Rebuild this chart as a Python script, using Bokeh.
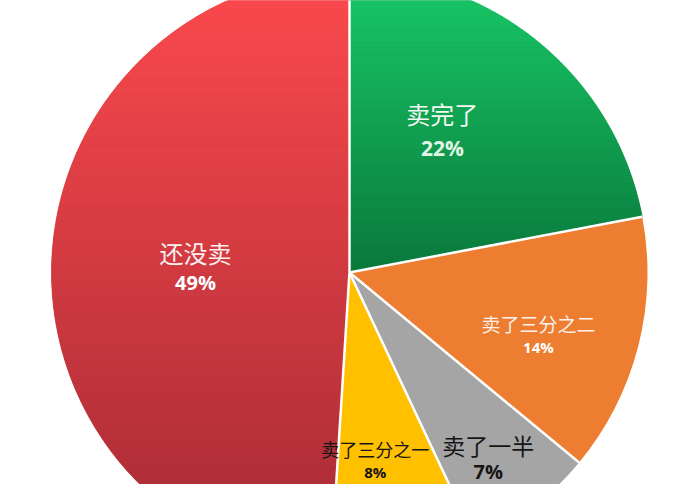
import numpy as np
from bokeh.plotting import figure
from bokeh.models import Range1d, ColumnDataSource
from bokeh.core.properties import value
from bokeh.embed import file_html
from bokeh.resources import INLINE

# ---- data (clockwise from 12 o'clock) ----
categories = ["卖完了", "卖了三分之二", "卖了一半", "卖了三分之一", "还没卖"]
shares = [22, 14, 7, 8, 49]
pct_labels = [f"{v}%" for v in shares]

# ---- style / layout ----
base_colors = ["#13A653", "#ED7D31", "#A5A5A5", "#FFC000", "#D93A3F"]
grad = {0: ("#19CA68", "#0A783B"), 4: ("#FC4A4E", "#A42A33")}
name_colors = ["#F2F8F2", "#FBF1EA", "#151515", "#151515", "#FBEFEF"]
pct_colors = ["#E2F6E8", "#FFFFFF", "#151515", "#151515", "#FFFFFF"]
name_sizes = ["24px", "19px", "23px", "18px", "24px"]
pct_sizes = ["21px", "15px", "20px", "15px", "20px"]
label_frac = [0.569, 0.668, 0.781, 0.637, 0.517]
label_dang = [-6.4, 4.0, 1.2, 3.0, 0.0]
name_dy = [-17, -12, -14, -12, -15]
pct_dy = [17, 12, 12, 11, 15]

W, H = 684, 484
cx, cy, R = 349.0, 500 - 272.0, 298.0

p = figure(width=W, height=H, x_range=Range1d(0, 684), y_range=Range1d(16, 500),
           output_backend="svg", toolbar_location=None, min_border=0)
p.axis.visible = False
p.grid.visible = False
p.outline_line_color = None
p.background_fill_color = "white"
p.border_fill_color = "white"

total = float(sum(shares))
cum = np.concatenate([[0.0], np.cumsum(shares) / total])
a_from, a_to = cum[:-1], cum[1:]
start = np.pi / 2 - 2 * np.pi * a_to
end = np.pi / 2 - 2 * np.pi * a_from

src = ColumnDataSource(dict(cat=categories, share=shares, start=start, end=end,
                            color=base_colors))
p.wedge(x=cx, y=cy, radius=R, start_angle="start", end_angle="end",
        fill_color="color", line_color=None, source=src)


def hexrgb(h):
    h = h.lstrip("#")
    return np.array([int(h[i:i + 2], 16) for i in (0, 2, 4)], float)


def clip(poly, yv, keep_above):
    out = []
    n = len(poly)
    for i in range(n):
        P, Q = poly[i], poly[(i + 1) % n]
        inP = P[1] >= yv if keep_above else P[1] <= yv
        inQ = Q[1] >= yv if keep_above else Q[1] <= yv
        if inP:
            out.append(P)
        if inP != inQ:
            t = (yv - P[1]) / (Q[1] - P[1])
            out.append((P[0] + t * (Q[0] - P[0]), yv))
    return out


# vertical gradient overlays
for idx, (ctop, cbot) in grad.items():
    angs = np.linspace(start[idx], end[idx], 200)
    poly = [(cx, cy)] + [(cx + R * np.cos(a), cy + R * np.sin(a)) for a in angs]
    ys_all = [q[1] for q in poly]
    ytop, ybot = cy + R, min(ys_all)
    c0, c1 = hexrgb(ctop), hexrgb(cbot)
    nb = 70
    edges = np.linspace(ybot, ytop, nb + 1)
    xs, ys, cols = [], [], []
    for k in range(nb):
        band = clip(clip(poly, edges[k], True), edges[k + 1], False)
        if len(band) < 3:
            continue
        ym = 0.5 * (edges[k] + edges[k + 1])
        t = (ytop - ym) / (ytop - ybot)
        t = min(max(t, 0), 1)
        c = c0 + (c1 - c0) * t
        xs.append([q[0] for q in band])
        ys.append([q[1] for q in band])
        cols.append("#%02x%02x%02x" % tuple(int(round(v)) for v in c))
    p.patches(xs, ys, fill_color=cols, line_color=cols, line_width=0.6)

# white separators between slices
bx0 = [cx] * len(cum[:-1])
by0 = [cy] * len(cum[:-1])
bx1 = [cx + R * np.sin(2 * np.pi * a) for a in cum[:-1]]
by1 = [cy + R * np.cos(2 * np.pi * a) for a in cum[:-1]]
p.segment(x0=bx0, y0=by0, x1=bx1, y1=by1, line_color="white", line_width=2.5)

# labels
mid = 0.5 * (a_from + a_to) * 360.0
for i in range(len(categories)):
    th = np.deg2rad(mid[i] + label_dang[i])
    r = R * label_frac[i]
    lx, ly = cx + r * np.sin(th), cy + r * np.cos(th)
    p.text(x=[lx], y=[ly], text=[categories[i]], y_offset=name_dy[i],
           text_font=value("Noto Sans CJK SC"), text_font_size=name_sizes[i],
           text_color=name_colors[i], text_align="center", text_baseline="middle")
    p.text(x=[lx], y=[ly], text=[pct_labels[i]], y_offset=pct_dy[i],
           text_font=value("Open Sans"), text_font_style="bold",
           text_font_size=pct_sizes[i],
           text_color=pct_colors[i], text_align="center", text_baseline="middle")

open("out.html", "w").write(file_html(p, INLINE))
